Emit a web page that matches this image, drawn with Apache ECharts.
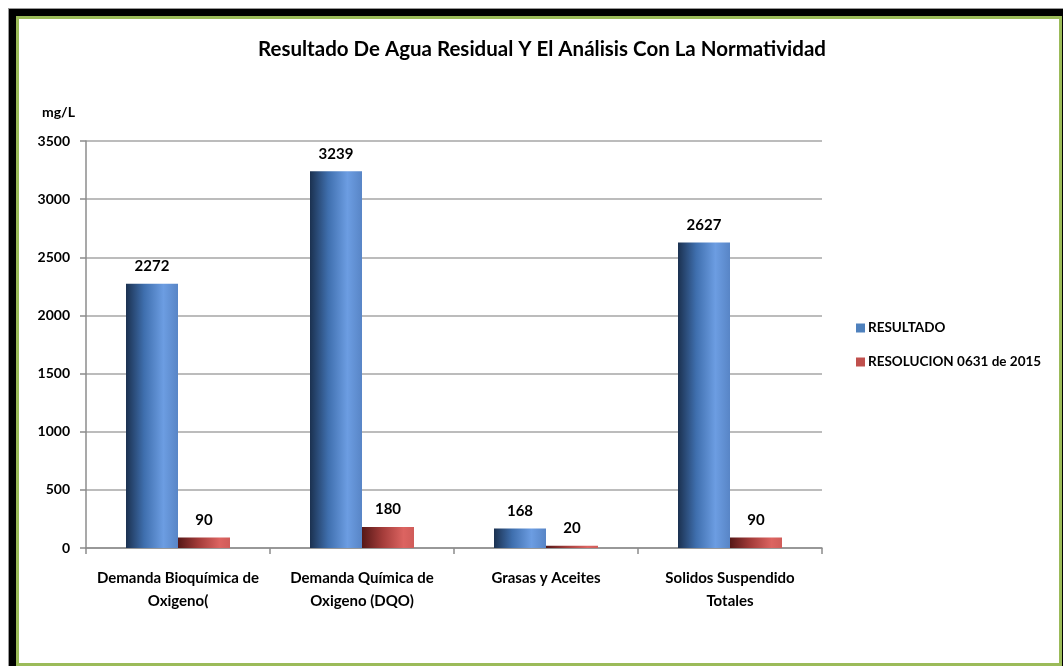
<!DOCTYPE html>
<html>
<head>
<meta charset="utf-8">
<script src="https://cdn.jsdelivr.net/npm/echarts@6/dist/echarts.min.js"></script>
<style>
  body { margin: 0; background: #fff; overflow: hidden; }
  #frame {
    position: absolute; left: 8px; top: 8px; width: 1055px; height: 658px;
    border-top: 1px solid #999; border-left: 1px solid #999; box-sizing: border-box;
    background: #000;
  }
  #inner {
    position: absolute; left: 7px; top: 7px; right: 1px; bottom: 0;
    border: 3px solid #9bbb59; background: #fff; box-sizing: border-box;
  }
  #chart { position: absolute; left: 0; top: 0; width: 1063px; height: 666px; }
</style>
</head>
<body>
<div id="frame"><div id="inner"></div></div>
<div id="chart"></div>
<script>
const categories = [
    "Demanda Bioquímica de\nOxigeno(",
    "Demanda Química de\nOxigeno (DQO)",
    "Grasas y Aceites",
    "Solidos Suspendido\nTotales"
];
const resultado = [2272, 3239, 168, 2627];
const resolucion = [90, 180, 20, 90];
const seriesNames = ["RESULTADO", "RESOLUCION 0631 de 2015"];

const font = "Lato";

let myChart = echarts.init(document.getElementById("chart"));

const blueFill = new echarts.graphic.LinearGradient(0, 0, 1, 0, [
    { offset: 0, color: "#1b3150" },
    { offset: 0.35, color: "#3f6fae" },
    { offset: 0.72, color: "#6c9de2" },
    { offset: 1, color: "#5885c6" }
]);
const redFill = new echarts.graphic.LinearGradient(0, 0, 1, 0, [
    { offset: 0, color: "#561817" },
    { offset: 0.4, color: "#a43c3a" },
    { offset: 0.8, color: "#dc6461" },
    { offset: 1, color: "#d05c59" }
]);

const labelStyle = {
    show: true,
    position: "top",
    distance: 10,
    fontFamily: font,
    fontWeight: "bold",
    fontSize: 15,
    color: "#000"
};

myChart.setOption({
    animation: false,
    title: [
        {
            text: "Resultado De Agua Residual Y El Análisis Con La Normatividad",
            left: 253,
            top: 34,
            textStyle: { fontFamily: font, fontWeight: "bold", fontSize: 20.5, color: "#000" }
        },
        {
            text: "mg/L",
            left: 37,
            top: 100,
            textStyle: { fontFamily: font, fontWeight: "bold", fontSize: 14, color: "#000" }
        }
    ],
    legend: {
        orient: "vertical",
        left: 851,
        top: 316,
        itemWidth: 9,
        itemHeight: 9,
        itemGap: 20,
        icon: "rect",
        textStyle: { fontFamily: font, fontWeight: "bold", fontSize: 13.5, color: "#000", padding: [0, 0, 0, -2] },
        data: [
            { name: seriesNames[0], itemStyle: { color: "#4f81bd" } },
            { name: seriesNames[1], itemStyle: { color: "#c0504d" } }
        ]
    },
    grid: {
        left: 86,
        right: 241,
        top: 141,
        bottom: 118
    },
    xAxis: {
        type: "category",
        data: categories,
        axisLine: { lineStyle: { color: "#8c8c8c", width: 1.5 } },
        axisTick: { show: true, length: 6, lineStyle: { color: "#8c8c8c", width: 1.5 } },
        axisLabel: {
            margin: 19,
            interval: 0,
            lineHeight: 23,
            fontFamily: font,
            fontWeight: "bold",
            fontSize: 15,
            color: "#000"
        }
    },
    yAxis: {
        type: "value",
        min: 0,
        max: 3500,
        interval: 500,
        axisLine: { show: true, lineStyle: { color: "#8c8c8c", width: 1.5 } },
        axisTick: { show: true, length: 6, lineStyle: { color: "#8c8c8c", width: 1.5 } },
        splitLine: { lineStyle: { color: "#a6a6a6", width: 1.5 } },
        axisLabel: {
            margin: 16,
            formatter: v => String(v),
            fontFamily: font,
            fontWeight: "bold",
            fontSize: 14,
            color: "#000"
        }
    },
    series: [
        {
            name: seriesNames[0],
            type: "bar",
            data: resultado,
            barWidth: 52,
            barGap: "0%",
            itemStyle: { color: blueFill },
            label: labelStyle
        },
        {
            name: seriesNames[1],
            type: "bar",
            data: resolucion,
            barWidth: 52,
            barGap: "0%",
            itemStyle: { color: redFill },
            label: labelStyle
        }
    ]
});
</script>
</body>
</html>
